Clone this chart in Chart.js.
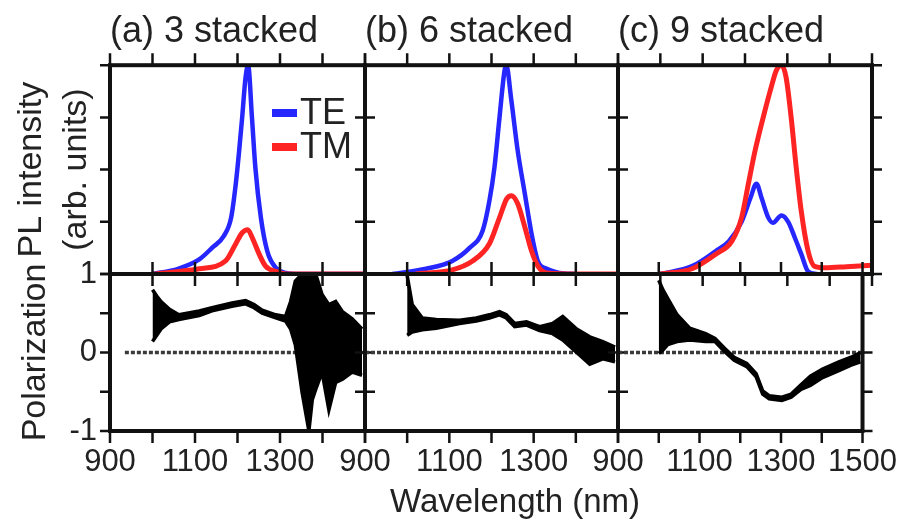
<!DOCTYPE html>
<html>
<head>
<meta charset="utf-8">
<title>PL intensity and polarization</title>
<script src="https://cdn.jsdelivr.net/npm/chart.js@4.4.0/dist/chart.umd.min.js"></script>
<style>
  body { margin: 0; background: #fff; }
  #wrap { position: relative; width: 910px; height: 523px; overflow: hidden; }
  #wrap canvas { position: absolute; left: 0; top: 0; }
  #xtitle { position: absolute; left: 515px; top: 482px; transform: translateX(-50%);
            font: 33px 'Liberation Sans', Arial, sans-serif; line-height: 38px; color: #222; white-space: nowrap; }
</style>
</head>
<body>
<div id="wrap">
  <canvas id="plA" width="910" height="523"></canvas>
  <canvas id="plB" width="910" height="523"></canvas>
  <canvas id="plC" width="910" height="523"></canvas>
  <canvas id="polA" width="910" height="523"></canvas>
  <canvas id="polB" width="910" height="523"></canvas>
  <canvas id="polC" width="910" height="523"></canvas>
  <div id="xtitle">Wavelength (nm)</div>
</div>
<script>
// (a) 3 stacked - PL spectra
const wlTeA = [1000, 1060, 1110, 1140, 1168, 1185, 1196, 1204, 1211, 1219, 1225, 1234, 1242, 1255, 1270, 1290, 1314, 1345, 1500];
const teA   = [1.0, 1.1, 1.28, 1.5, 1.73, 2.08, 2.73, 3.37, 4.0, 4.77, 5.0, 4.0, 3.04, 2.08, 1.44, 1.12, 1.02, 1.0, 1.0];
const wlTmA = [1005, 1110, 1172, 1196, 1211, 1224, 1235, 1251, 1266, 1290, 1314, 1500];
const tmA   = [1.0, 1.1, 1.25, 1.58, 1.79, 1.85, 1.69, 1.38, 1.15, 1.05, 1.0, 1.0];

// (b) 6 stacked
const wlTeB = [965, 1045, 1107, 1148, 1179, 1195, 1207, 1219, 1231, 1235, 1247, 1262, 1279, 1295, 1310, 1331, 1362, 1400];
const teB   = [1.0, 1.1, 1.25, 1.5, 1.83, 2.4, 3.04, 4.0, 4.9, 5.0, 4.33, 3.37, 2.54, 1.77, 1.25, 1.1, 1.02, 1.0];
const wlTmB = [1020, 1107, 1155, 1195, 1219, 1236, 1247, 1262, 1279, 1295, 1310, 1331, 1400, 1500];
const tmB   = [1.0, 1.08, 1.25, 1.58, 2.08, 2.44, 2.5, 2.35, 1.9, 1.44, 1.15, 1.02, 1.0, 1.0];

// (c) 9 stacked
const wlTeC = [1000, 1075, 1131, 1162, 1192, 1213, 1227, 1239, 1255, 1266, 1286, 1302, 1318, 1333, 1349, 1370];
const teC   = [1.0, 1.15, 1.44, 1.63, 2.0, 2.46, 2.73, 2.46, 2.08, 1.98, 2.12, 2.0, 1.69, 1.38, 1.05, 1.0];
const wlTmC = [1000, 1075, 1131, 1169, 1192, 1208, 1224, 1243, 1262, 1274, 1286, 1297, 1309, 1321, 1333, 1349, 1364, 1388, 1440, 1500];
const tmC   = [1.0, 1.1, 1.38, 1.63, 2.08, 2.73, 3.37, 4.0, 4.58, 4.9, 5.0, 4.77, 4.0, 3.04, 2.2, 1.44, 1.15, 1.12, 1.14, 1.17];

// polarization: upper and lower edge of the noisy trace
const polWlA = [1000, 1010, 1020, 1040, 1062, 1110, 1140, 1187, 1219, 1239, 1258, 1290, 1313, 1325, 1336, 1352, 1368, 1376, 1384, 1399, 1415, 1431, 1447, 1470, 1493];
const polHiA = [0.80, 0.72, 0.65, 0.55, 0.48, 0.53, 0.57, 0.63, 0.66, 0.61, 0.54, 0.48, 0.46, 0.65, 0.91, 1.0, 1.0, 1.0, 1.0, 0.74, 0.61, 0.65, 0.52, 0.43, 0.30];
const polLoA = [0.14, 0.22, 0.30, 0.39, 0.42, 0.47, 0.53, 0.59, 0.62, 0.57, 0.50, 0.44, 0.40, 0.30, 0.10, -0.51, -1.0, -0.6, -0.47, -0.25, -0.73, -0.38, -0.34, -0.25, -0.29];

const polWlB = [1000, 1012, 1036, 1069, 1124, 1164, 1195, 1219, 1235, 1255, 1283, 1314, 1345, 1369, 1402, 1433, 1464, 1493];
const polHiB = [0.98, 0.61, 0.44, 0.42, 0.41, 0.44, 0.48, 0.52, 0.48, 0.37, 0.39, 0.33, 0.37, 0.46, 0.30, 0.20, 0.14, 0.07];
const polLoB = [0.22, 0.26, 0.29, 0.31, 0.37, 0.40, 0.44, 0.48, 0.44, 0.33, 0.35, 0.28, 0.24, 0.16, 0.0, -0.15, -0.08, -0.12];

const polWlC = [1000, 1010, 1022, 1045, 1076, 1115, 1138, 1162, 1185, 1216, 1239, 1255, 1271, 1302, 1325, 1349, 1372, 1402, 1442, 1472, 1495];
const polHiC = [0.92, 0.80, 0.69, 0.48, 0.31, 0.24, 0.18, 0.05, -0.06, -0.14, -0.27, -0.49, -0.55, -0.57, -0.53, -0.41, -0.30, -0.21, -0.12, -0.06, 0.0];
const polLoC = [-0.01, 0.03, 0.10, 0.14, 0.16, 0.14, 0.14, 0.01, -0.10, -0.18, -0.31, -0.53, -0.59, -0.61, -0.57, -0.47, -0.42, -0.32, -0.23, -0.16, -0.12];

// dotted zero reference
const zeroWlA = [935, 1500];
const zeroWlBC = [900, 1500];
const zeroLevel = [0, 0];

const xLabelsAB = [900, 1100, 1300];
const xLabelsC = [900, 1100, 1300, 1500];
const plLabels = [1];
const polLabels = [0, -1];

const FONT = "'Liberation Sans', Arial, sans-serif";
Chart.defaults.font.family = FONT;
Chart.defaults.color = '#222';

const pts = (xs, ys) => xs.map((x, i) => ({ x: x, y: ys[i] }));

// frame + outward tick marks on all four sides of every panel
const panelFrame = {
    id: 'panelFrame',
    afterDraw(chart) {
        const { ctx, chartArea: a, scales } = chart;
        ctx.save();
        ctx.strokeStyle = '#111';
        ctx.lineWidth = 2.5;
        ctx.beginPath();
        scales.x.ticks.forEach(t => {
            const px = scales.x.getPixelForValue(t.value);
            ctx.moveTo(px, a.top); ctx.lineTo(px, a.top - 12);
            ctx.moveTo(px, a.bottom); ctx.lineTo(px, a.bottom + 12);
        });
        scales.y.ticks.forEach(t => {
            const py = scales.y.getPixelForValue(t.value);
            ctx.moveTo(a.left, py); ctx.lineTo(a.left - 10, py);
            ctx.moveTo(a.right, py); ctx.lineTo(a.right + 10, py);
        });
        ctx.stroke();
        ctx.lineWidth = 4;
        ctx.strokeRect(a.left, a.top, a.right - a.left, a.bottom - a.top);
        ctx.restore();
    }
};
Chart.register(panelFrame);

// small legend inside panel (a)
const insetLegend = {
    id: 'insetLegend',
    afterDatasetsDraw(chart, args, opts) {
        const ctx = chart.ctx;
        ctx.save();
        ctx.font = '36px ' + FONT;
        ctx.textBaseline = 'middle';
        chart.data.datasets.forEach((ds, i) => {
            const y = opts.y + i * opts.gap;
            ctx.strokeStyle = ds.borderColor;
            ctx.lineWidth = 8;
            ctx.beginPath();
            ctx.moveTo(opts.x, y); ctx.lineTo(opts.x + 25, y);
            ctx.stroke();
            ctx.fillStyle = '#222';
            ctx.fillText(ds.label, opts.x + 28, y + 1);
        });
        ctx.restore();
    }
};

function plSets(wlTe, te, wlTm, tm) {
    return [
        { label: 'TE', data: pts(wlTe, te), borderColor: '#2626ff', borderWidth: 4.5, cubicInterpolationMode: 'monotone', order: 2 },
        { label: 'TM', data: pts(wlTm, tm), borderColor: '#ff2424', borderWidth: 5, cubicInterpolationMode: 'monotone', order: 1 }
    ];
}

function polSets(zeroWl, wl, hi, lo) {
    return [
        { data: pts(zeroWl, zeroLevel), borderColor: '#3a3a3a', borderWidth: 3.5, borderDash: [4, 2], order: 3 },
        { data: pts(wl, hi), borderColor: '#000', borderWidth: 3.5, order: 1 },
        { data: pts(wl, lo), borderColor: '#000', borderWidth: 3.5, fill: '-1', backgroundColor: '#000', order: 2 }
    ];
}

// hidden axes keep zero size; shown axes get a fixed size so every panel lines up
function xScale(labels) {
    return {
        type: 'linear', min: 900, max: 1500, display: !!labels,
        grid: { display: false, drawTicks: false },
        border: { display: false },
        ticks: {
            stepSize: 100, autoSkip: false, maxRotation: 0, padding: 13, font: { size: 31 },
            callback: v => (labels && labels.includes(v)) ? String(v) : ''
        },
        afterFit: s => { s.height = labels ? 92 : 0; }
    };
}

function yScale(min, max, step, labels, title, titlePad) {
    return {
        type: 'linear', min: min, max: max, display: !!labels,
        grid: { display: false, drawTicks: false },
        border: { display: false },
        ticks: {
            stepSize: step, autoSkip: false, padding: 13, font: { size: 31 },
            callback: v => (labels && labels.includes(v)) ? String(v) : ''
        },
        title: title ? { display: true, text: title, color: '#222', font: { size: 34, lineHeight: 1.3 }, padding: { top: titlePad, bottom: 0 } } : { display: false },
        afterFit: s => { s.width = labels ? 110 : 0; }
    };
}

function panelTitle(text) {
    return {
        display: !!text, text: text, align: 'start', fullSize: false, color: '#222',
        font: { size: 36, weight: 'normal' }, padding: { top: 0, bottom: 12 }
    };
}

function makePanel(id, datasets, scales, pad, title, legendOpts) {
    return new Chart(document.getElementById(id), {
        type: 'line',
        data: { datasets: datasets },
        options: {
            responsive: false, animation: false, devicePixelRatio: 1,
            layout: { padding: pad },
            elements: { point: { radius: 0 }, line: { fill: false, tension: 0 } },
            plugins: {
                legend: { display: false },
                tooltip: { enabled: false },
                title: panelTitle(title),
                insetLegend: legendOpts || {}
            },
            scales: scales
        },
        plugins: legendOpts ? [insetLegend] : []
    });
}

// top row: PL spectra
makePanel('plA', plSets(wlTeA, teA, wlTmA, tmA),
    { x: xScale(null), y: yScale(1, 5, 1, plLabels, ['PL intensity', '(arb. units)'], 10) },
    { left: 0, top: 10, right: 545, bottom: 249 }, '(a) 3 stacked', { x: 272, y: 113, gap: 34 });
makePanel('plB', plSets(wlTeB, teB, wlTmB, tmB),
    { x: xScale(null), y: yScale(1, 5, 1, null) },
    { left: 365, top: 10, right: 292, bottom: 249 }, '(b) 6 stacked');
makePanel('plC', plSets(wlTeC, teC, wlTmC, tmC),
    { x: xScale(null), y: yScale(1, 5, 1, null) },
    { left: 618, top: 10, right: 38, bottom: 249 }, '(c) 9 stacked');

// bottom row: polarization
makePanel('polA', polSets(zeroWlA, polWlA, polHiA, polLoA),
    { x: xScale(xLabelsAB), y: yScale(-1, 1, 0.5, polLabels, 'Polarization', 14) },
    { left: 0, top: 274, right: 545, bottom: 0 });
makePanel('polB', polSets(zeroWlBC, polWlB, polHiB, polLoB),
    { x: xScale(xLabelsAB), y: yScale(-1, 1, 0.5, null) },
    { left: 365, top: 274, right: 292, bottom: 0 });
makePanel('polC', polSets(zeroWlBC, polWlC, polHiC, polLoC),
    { x: xScale(xLabelsC), y: yScale(-1, 1, 0.5, null) },
    { left: 618, top: 274, right: 38, bottom: 0 });
</script>
</body>
</html>
